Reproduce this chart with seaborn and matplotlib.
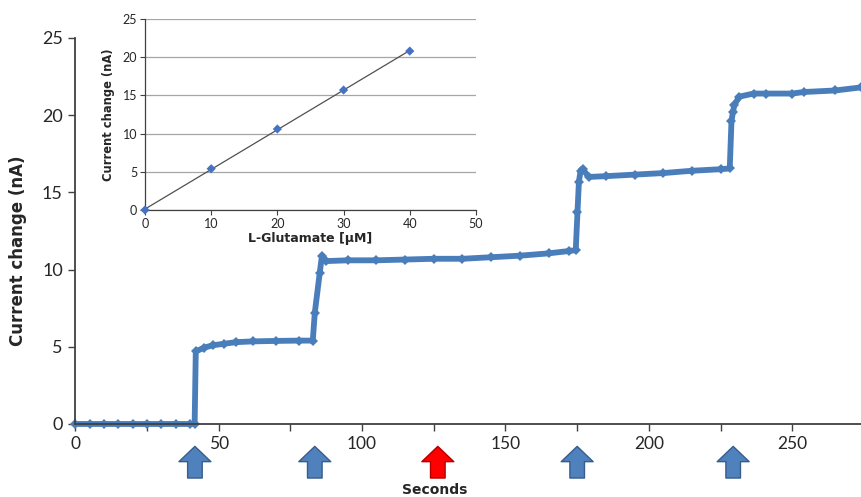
# Amperometric response of the L-glutamate sensor, with calibration inset.
import matplotlib
matplotlib.use('Agg')
import matplotlib.pyplot as plt
from matplotlib.ticker import MultipleLocator
import seaborn as sns
import pandas as pd

# Main trace: time (s) and current change (nA).
t_sec = [0, 5, 10, 15, 20, 25, 30, 35, 40, 41.6,
         42.0, 45, 48, 52, 56, 62, 70, 78, 82.8,
         83.5, 85.2, 86.0, 87.5, 95, 105, 115, 125, 135, 145, 155, 165, 172, 174.5,
         175.1, 175.6, 176.2, 177, 179, 185, 195, 205, 215, 225, 228.2,
         228.8, 229.3, 229.8, 231.5, 236.5, 241, 250, 254, 265, 274]
current_na = [0, 0, 0, 0, 0, 0, 0, 0, 0, 0,
              4.7, 4.95, 5.1, 5.2, 5.3, 5.35, 5.38, 5.4, 5.4,
              7.2, 9.75, 10.9, 10.55, 10.6, 10.6, 10.65, 10.7, 10.7, 10.8, 10.9, 11.05, 11.2, 11.26,
              13.7, 15.7, 16.4, 16.5, 16.0, 16.05, 16.15, 16.25, 16.4, 16.5, 16.55,
              19.6, 20.2, 20.65, 21.2, 21.4, 21.4, 21.4, 21.5, 21.6, 21.8]

# Additions (arrows under the time axis); the red one is the odd one out.
arrow_t = [41.7, 83.5, 126.4, 175.0, 229.4]
arrow_kind = ['glu', 'glu', 'other', 'glu', 'glu']

# Calibration inset.
conc_um = [0, 10, 20, 30, 40]
calib_na = [0, 5.4, 10.6, 15.7, 20.8]

sns.set_style('white')
plt.rcParams['font.family'] = ['Lato', 'DejaVu Sans']

blue = '#4a7ebb'
axis_col = '#404040'
bold_font = 'DejaVu Sans'

fig = plt.figure(figsize=(8.61, 4.97), dpi=100)

# Main chart.
ax = fig.add_axes([0.0875, 0.1469, 0.9126, 0.7767])
trace = pd.DataFrame({'t': t_sec, 'i': current_na})
sns.lineplot(data=trace, x='t', y='i', ax=ax, color=blue, linewidth=4.2,
             marker='D', markersize=5.5, markeredgewidth=0, clip_on=False)
ax.set_xlim(0, 274)
ax.set_ylim(0, 25)
ax.xaxis.set_major_locator(MultipleLocator(50))
ax.xaxis.set_minor_locator(MultipleLocator(25))
ax.yaxis.set_major_locator(MultipleLocator(5))
ax.tick_params(axis='x', which='both', direction='out', length=5, width=1,
               color=axis_col, bottom=True, labelsize=12.5, pad=4)
ax.tick_params(axis='y', direction='out', length=5, width=1, color=axis_col,
               left=True, labelsize=13, pad=4)
for side in ['top', 'right']:
    ax.spines[side].set_visible(False)
for side in ['left', 'bottom']:
    ax.spines[side].set_color(axis_col)
    ax.spines[side].set_linewidth(1.3)
ax.set_ylabel('Current change (nA)', fontsize=12, fontweight='bold',
              family=bold_font)
ax.yaxis.set_label_coords(-0.061, 0.45)
ax.set_xlabel('')
fig.text(0.505, 0.014, 'Seconds', ha='center', va='center', fontsize=10,
         fontweight='bold', family=bold_font)

# Arrows marking each addition.
arrow_colors = {'glu': ('#4f81bd', '#385d8a'), 'other': ('#ff0000', '#b00000')}
for t, kind in zip(arrow_t, arrow_kind):
    face, edge = arrow_colors[kind]
    ax.annotate('', xy=(t, -0.058), xytext=(t, -0.14),
                xycoords=ax.get_xaxis_transform(),
                textcoords=ax.get_xaxis_transform(),
                arrowprops=dict(width=10.5, headwidth=23, headlength=11,
                                facecolor=face, edgecolor=edge, linewidth=1),
                annotation_clip=False)

# Inset calibration plot.
ins = fig.add_axes([0.1684, 0.5775, 0.3844, 0.3843])
sns.regplot(x=conc_um, y=calib_na, ax=ins, scatter=False, ci=None,
            line_kws=dict(color='#505050', linewidth=0.9))
sns.scatterplot(x=conc_um, y=calib_na, ax=ins, marker='D', s=22,
                color='#4472c4', edgecolor='none', zorder=3, clip_on=False)
ins.set_xlim(0, 50)
ins.set_ylim(0, 25)
ins.xaxis.set_major_locator(MultipleLocator(10))
ins.yaxis.set_major_locator(MultipleLocator(5))
ins.grid(axis='y', color='#a6a6a6', linewidth=0.9)
ins.set_axisbelow(True)
ins.tick_params(axis='both', direction='out', length=3.5, width=0.8,
                color=axis_col, labelsize=9, pad=2, bottom=True, left=True)
for side in ['top', 'right']:
    ins.spines[side].set_visible(False)
for side in ['left', 'bottom']:
    ins.spines[side].set_color(axis_col)
    ins.spines[side].set_linewidth(0.9)
ins.set_xlabel('L-Glutamate [µM]', fontsize=9, fontweight='bold',
               family=bold_font, labelpad=2)
ins.set_ylabel('Current change (nA)', fontsize=8.3, fontweight='bold',
               family=bold_font, labelpad=6)

fig.savefig('out.png', dpi=100)
